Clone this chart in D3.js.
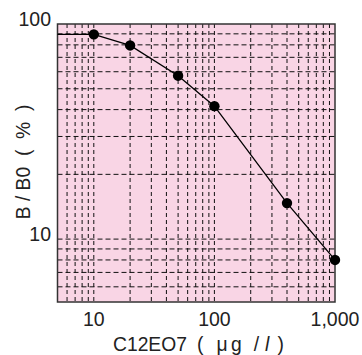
<!DOCTYPE html>
<html>
<head>
<meta charset="utf-8">
<script src="https://cdn.jsdelivr.net/npm/d3@7"></script>
<style>
  body { margin: 0; background: #fff; }
  svg text { font-family: "Liberation Sans", Arial, sans-serif; fill: #222; white-space: pre; }
</style>
</head>
<body>
<div id="chart"></div>
<script>
// data
const concentrations = [10, 20, 50, 100, 400, 1000];
const bOverB0 = [89.5, 79.5, 57.5, 41.5, 14.7, 8.0];
const xTickValues = [10, 100, 1000];
const xTickLabels = ["10", "100", "1,000"];
const yTickValues = [10, 100];
const yTickLabels = ["10", "100"];

const width = 362, height = 355;
const plotL = 57.5, plotR = 335, plotT = 24, plotB = 302;

const svg = d3.select("#chart").append("svg")
  .attr("width", width)
  .attr("height", height);

const x = d3.scaleLog().domain([5, 1000]).range([plotL, plotR]);
const y = d3.scaleLog().domain([5.1, 100]).range([plotB, plotT]);

// plot background
svg.append("rect")
  .attr("x", plotL).attr("y", plotT)
  .attr("width", plotR - plotL).attr("height", plotB - plotT)
  .attr("fill", "#f9d5e5");

// minor + major grid lines
const xGrid = [];
[1, 10, 100].forEach(d => { for (let i = 1; i <= 9; i++) if (d * i > 5 && d * i < 1000) xGrid.push(d * i); });
const yGrid = [];
[1, 10].forEach(d => { for (let i = 1; i <= 9; i++) if (d * i > 5.1 && d * i < 100) yGrid.push(d * i); });

svg.append("g").selectAll("line")
  .data(xGrid)
  .enter().append("line")
  .attr("x1", d => x(d)).attr("x2", d => x(d))
  .attr("y1", plotT).attr("y2", plotB)
  .attr("stroke", "#111")
  .attr("stroke-width", 1)
  .attr("stroke-dasharray", "4,3");

svg.append("g").selectAll("line")
  .data(yGrid)
  .enter().append("line")
  .attr("x1", plotL).attr("x2", plotR)
  .attr("y1", d => y(d)).attr("y2", d => y(d))
  .attr("stroke", "#111")
  .attr("stroke-width", 1)
  .attr("stroke-dasharray", "5,3");

// frame
svg.append("rect")
  .attr("x", plotL).attr("y", plotT)
  .attr("width", plotR - plotL).attr("height", plotB - plotT)
  .attr("fill", "none")
  .attr("stroke", "#333")
  .attr("stroke-width", 1.5);

// curve: flat from the left edge to the first point, then through the points
const pts = concentrations.map((c, i) => [c, bOverB0[i]]);
const linePts = [[5, bOverB0[0]]].concat(pts);
const line = d3.line().x(d => x(d[0])).y(d => y(d[1]));

svg.append("path")
  .datum(linePts)
  .attr("d", line)
  .attr("fill", "none")
  .attr("stroke", "#000")
  .attr("stroke-width", 1.3);

svg.append("g").selectAll("circle")
  .data(pts)
  .enter().append("circle")
  .attr("cx", d => x(d[0]))
  .attr("cy", d => y(d[1]))
  .attr("r", 5.2)
  .attr("fill", "#000");

// tick labels
svg.append("g").selectAll("text")
  .data(xTickValues)
  .enter().append("text")
  .attr("x", d => x(d))
  .attr("y", 326)
  .attr("text-anchor", "middle")
  .attr("font-size", 19.5)
  .text((d, i) => xTickLabels[i]);

svg.append("g").selectAll("text")
  .data(yTickValues)
  .enter().append("text")
  .attr("x", 51)
  .attr("y", d => y(d) + 2)
  .attr("text-anchor", "end")
  .attr("font-size", 19.5)
  .text((d, i) => yTickLabels[i]);

// axis titles
const xTitle = svg.append("text")
  .attr("x", 113)
  .attr("y", 351)
  .attr("font-size", 19.3);
xTitle.append("tspan").text("C12EO7");
xTitle.append("tspan").attr("dx", 10).text("(");
xTitle.append("tspan").attr("dx", 13).text("μ");
xTitle.append("tspan").attr("dx", 3.5).text("g");
xTitle.append("tspan").attr("dx", 12).text("/");
xTitle.append("tspan").attr("dx", 6).attr("font-style", "italic").text("l");
xTitle.append("tspan").attr("dx", 8).text(")");

svg.append("text")
  .attr("transform", "translate(30,162) rotate(-90)")
  .attr("text-anchor", "middle")
  .attr("font-size", 19.3)
  .text("B / B0  (  %  )");
</script>
</body>
</html>
